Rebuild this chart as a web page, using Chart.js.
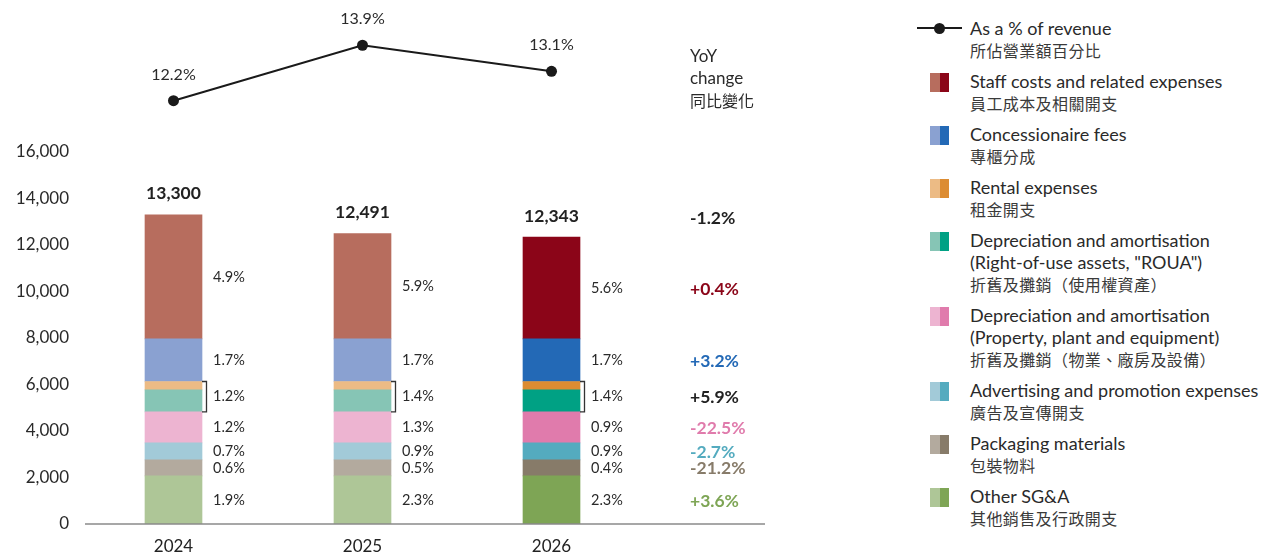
<!DOCTYPE html>
<html>
<head>
<meta charset="utf-8">
<script src="https://cdn.jsdelivr.net/npm/chart.js@4/dist/chart.umd.min.js"></script>
<style>
  body { margin: 0; background: #fff; }
  #wrap { position: relative; width: 1265px; height: 557px; font-family: Lato, "Noto Sans CJK TC", sans-serif; color: #2a2a2a; }
  #chart { position: absolute; left: 0; top: 0; }
  #legend { position: absolute; left: 970px; top: 17px; }
  .item { position: relative; margin-bottom: 9px; font-size: 18px; line-height: 22px; white-space: nowrap; }
  .item .zh { font-family: "Noto Sans CJK TC", sans-serif; font-size: 16px; letter-spacing: 0.4px; color: #3a3a3a; }
  .sw { position: absolute; left: -40px; top: 3px; width: 19px; height: 19px; display: flex; }
  .sw span { flex: 1; }
  .ln { position: absolute; left: -53px; top: 10px; width: 45px; height: 2px; background: #1a1a1a; }
  .dot { position: absolute; left: -36.5px; top: 5.5px; width: 11px; height: 11px; border-radius: 50%; background: #1a1a1a; }
</style>
</head>
<body>
<div id="wrap">
  <canvas id="chart" width="900" height="557"></canvas>
  <div id="legend"></div>
</div>
<script>
// categories
const years = ["2024", "2025", "2026"];

// segment values (HK$ million), bottom of the stack first
const otherSGA    = [2070, 2070, 2070];
const packaging   = [690, 690, 690];
const advertising = [730, 730, 730];
const depPPE      = [1330, 1330, 1330];
const depROUA     = [950, 950, 950];
const rental      = [360, 360, 360];
const concession  = [1830, 1830, 1830];
const staff       = [5340, 4531, 4383];
const totals      = [13300, 12491, 12343];

// as a % of revenue (line)
const pctRevenue = [12.2, 13.9, 13.1];

// share-of-revenue labels per group, top-down:
// staff, concession, rental+ROUA, PPE, advertising, packaging, other
const share2024 = [4.9, 1.7, 1.2, 1.2, 0.7, 0.6, 1.9];
const share2025 = [5.9, 1.7, 1.4, 1.3, 0.9, 0.5, 2.3];
const share2026 = [5.6, 1.7, 1.4, 0.9, 0.9, 0.4, 2.3];
const yoyTotal  = "-1.2%";
const yoyGroups = ["+0.4%", "+3.2%", "+5.9%", "-22.5%", "-2.7%", "-21.2%", "+3.6%"];

const yTicks = [0, 2000, 4000, 6000, 8000, 10000, 12000, 14000, 16000];

// names, top-down as in the legend
const namesEn = [
  ["Staff costs and related expenses"],
  ["Concessionaire fees"],
  ["Rental expenses"],
  ["Depreciation and amortisation", "(Right-of-use assets, \"ROUA\")"],
  ["Depreciation and amortisation", "(Property, plant and equipment)"],
  ["Advertising and promotion expenses"],
  ["Packaging materials"],
  ["Other SG&A"],
];
const namesZh = ["員工成本及相關開支", "專櫃分成", "租金開支", "折舊及攤銷（使用權資產）",
  "折舊及攤銷（物業、廠房及設備）", "廣告及宣傳開支", "包裝物料", "其他銷售及行政開支"];

// colours, top-down: [light (past years), dark (current year)]
const colours = [
  ["#b76d5e", "#8b0518"],
  ["#8aa1d1", "#2369b6"],
  ["#ecbb85", "#dc8c32"],
  ["#86c5b5", "#00a184"],
  ["#edb4d1", "#e07bac"],
  ["#a2cad8", "#54abbf"],
  ["#b3aa9e", "#877b69"],
  ["#aec697", "#7ea555"],
];
const yoyColours = ["#8b0518", "#2369b6", "#222", "#e07bac", "#54abbf", "#877b69", "#7ea555"];

const BAR_W = 57;
const FONT = "Lato, 'Noto Sans CJK TC', sans-serif";

// stacked bottom-up
const stacks = [otherSGA, packaging, advertising, depPPE, depROUA, rental, concession, staff];
// label groups (dataset index ranges), top-down
const groups = [[7, 7], [6, 6], [4, 5], [3, 3], [2, 2], [1, 1], [0, 0]];
const shares = [share2024, share2025, share2026];

function segRange(i, from, to) {
  let lo = 0;
  for (let k = 0; k < from; k++) lo += stacks[k][i];
  let hi = lo;
  for (let k = from; k <= to; k++) hi += stacks[k][i];
  return [lo, hi];
}

const barSets = stacks.map((data, k) => {
  const c = colours[7 - k];
  return {
    type: "bar",
    data: data,
    stack: "cost",
    backgroundColor: [c[0], c[0], c[1]],
    barThickness: BAR_W,
    order: 2,
  };
});

const overlay = {
  id: "overlay",
  afterDatasetsDraw(chart) {
    const { ctx, chartArea, scales: { x, y, y2 } } = chart;
    ctx.save();
    // base line
    const y0 = y.getPixelForValue(0);
    ctx.strokeStyle = "#8a8a8a";
    ctx.lineWidth = 1.5;
    ctx.beginPath();
    ctx.moveTo(chartArea.left + 6, y0);
    ctx.lineTo(chartArea.right + 119, y0);
    ctx.stroke();

    ctx.textBaseline = "middle";
    years.forEach((yr, i) => {
      const cx = x.getPixelForValue(i);
      const right = cx + BAR_W / 2;

      ctx.fillStyle = "#2a2a2a";
      ctx.font = "14.5px " + FONT;
      ctx.textAlign = "left";
      groups.forEach((g, j) => {
        const [lo, hi] = segRange(i, g[0], g[1]);
        const py = (y.getPixelForValue(lo) + y.getPixelForValue(hi)) / 2;
        ctx.fillText(shares[i][j].toFixed(1) + "%", right + 11, py);
      });

      // bracket round rental + ROUA
      const [blo, bhi] = segRange(i, 4, 5);
      const t = y.getPixelForValue(bhi), b = y.getPixelForValue(blo);
      ctx.strokeStyle = "#333";
      ctx.lineWidth = 1.3;
      ctx.beginPath();
      ctx.moveTo(right, t);
      ctx.lineTo(right + 4.5, t);
      ctx.lineTo(right + 4.5, b);
      ctx.lineTo(right, b);
      ctx.stroke();

      // totals
      ctx.textAlign = "center";
      ctx.font = "bold 17.5px " + FONT;
      ctx.fillStyle = "#222";
      ctx.fillText(totals[i].toLocaleString("en-US"), cx, y.getPixelForValue(totals[i]) - 21);

      // line labels
      ctx.font = "16px " + FONT;
      ctx.fillStyle = "#2a2a2a";
      ctx.fillText(pctRevenue[i].toFixed(1) + "%", cx, y2.getPixelForValue(pctRevenue[i]) - 26);
    });

    // YoY column
    const last = years.length - 1;
    const yx = x.getPixelForValue(last) + 138.5;
    ctx.textAlign = "left";
    ctx.font = "17px " + FONT;
    ctx.fillStyle = "#2a2a2a";
    ctx.fillText("YoY", yx, 57);
    ctx.fillText("change", yx, 79);
    ctx.font = "16px 'Noto Sans CJK TC', sans-serif";
    ctx.fillText("同比變化", yx, 101);

    ctx.font = "bold 17.5px " + FONT;
    ctx.fillStyle = "#222";
    ctx.fillText(yoyTotal, yx, y.getPixelForValue(totals[last]) - 19);
    groups.forEach((g, j) => {
      const [lo, hi] = segRange(last, g[0], g[1]);
      const py = (y.getPixelForValue(lo) + y.getPixelForValue(hi)) / 2;
      ctx.fillStyle = yoyColours[j];
      ctx.fillText(yoyGroups[j], yx, py + 1);
    });
    ctx.restore();
  },
};

new Chart(document.getElementById("chart"), {
  type: "bar",
  data: {
    labels: years,
    datasets: [
      {
        type: "line",
        data: pctRevenue,
        yAxisID: "y2",
        borderColor: "#1a1a1a",
        borderWidth: 2,
        pointRadius: 5.5,
        pointBackgroundColor: "#1a1a1a",
        pointBorderWidth: 0,
        tension: 0,
        order: 0,
      },
      ...barSets,
    ],
  },
  options: {
    responsive: false,
    animation: false,
    layout: { padding: { top: 12.5, right: 254, left: 0, bottom: 0 } },
    plugins: { legend: { display: false }, tooltip: { enabled: false } },
    scales: {
      x: {
        stacked: true,
        grid: { display: false, drawTicks: false },
        border: { display: false },
        ticks: { padding: 12, color: "#222", font: { family: FONT, size: 17 } },
        afterFit: (s) => { s.height = 33; },
      },
      y: {
        stacked: true,
        min: 0,
        max: 22000,
        grid: { display: false, drawTicks: false },
        border: { display: false },
        afterBuildTicks: (s) => { s.ticks = yTicks.map((v) => ({ value: v })); },
        ticks: {
          padding: 10,
          color: "#2a2a2a",
          font: { family: FONT, size: 17 },
          callback: (v) => v.toLocaleString("en-US"),
        },
        afterFit: (s) => {
          s.width = 79;
          s.paddingTop = 0;
          s.paddingBottom = 0;
        },
      },
      y2: {
        display: false,
        min: -0.785,
        max: 14.905,
      },
    },
  },
  plugins: [overlay],
});

// legend
const legend = document.getElementById("legend");
let html = '<div class="item"><div class="ln"></div><div class="dot"></div>' +
  '<div>As a % of revenue</div><div class="zh">所佔營業額百分比</div></div>';
namesEn.forEach((lines, k) => {
  html += '<div class="item"><div class="sw"><span style="background:' + colours[k][0] +
    '"></span><span style="background:' + colours[k][1] + '"></span></div>' +
    lines.map((l) => "<div>" + l.replace(/&/g, "&amp;") + "</div>").join("") +
    '<div class="zh">' + namesZh[k] + "</div></div>";
});
legend.innerHTML = html;
</script>
</body>
</html>
